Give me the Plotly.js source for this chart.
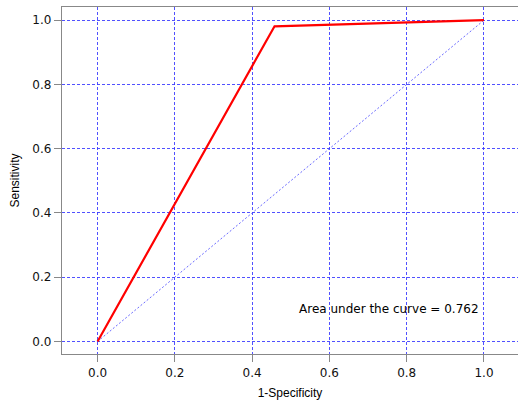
<!DOCTYPE html>
<html><head><meta charset="utf-8">
<script src="https://cdn.plot.ly/plotly-3.0.1.min.js"></script>
<style>html,body{margin:0;padding:0;background:#fff}</style>
</head><body><div id="chart" style="width:518px;height:402px"></div>
<script>
const fpr = [0, 0.458, 1];
const tpr = [0, 0.981, 1];
const refX = [0, 1];
const refY = [0, 1];
const tickVals = [0, 0.2, 0.4, 0.6, 0.8, 1.0];
const tickText = ["0.0", "0.2", "0.4", "0.6", "0.8", "1.0"];
const aucText = "Area under the curve = 0.762";

const titleFont = {family: "Liberation Sans, Arial, sans-serif", size: 12, color: "#000"};
const tickFont = {family: "DejaVu Sans, sans-serif", size: 12, color: "#111"};
const traces = [
  {x: refX, y: refY, mode: "lines", line: {color: "rgba(70,70,255,0.8)", width: 1, dash: "2px,2px"}, hoverinfo: "skip"},
  {x: fpr, y: tpr, mode: "lines", line: {color: "#ff0000", width: 2.2}}
];
const gridCommon = {
  showgrid: true, gridcolor: "rgba(50,50,255,0.85)", gridwidth: 1, griddash: "3px,2px",
  zeroline: false, tickmode: "array", tickvals: tickVals, ticktext: tickText,
  ticks: "outside", ticklen: 7, tickcolor: "#888", showline: true, linecolor: "#888", linewidth: 1.2,
  tickfont: tickFont
};
const layout = {
  width: 518, height: 402, showlegend: false,
  paper_bgcolor: "#fff", plot_bgcolor: "#fff",
  margin: {l: 62, r: 0, t: 7, b: 48},
  font: titleFont,
  xaxis: Object.assign({}, gridCommon, {range: [-0.092, 1.088], mirror: true,
    title: {text: "1-Specificity", font: titleFont, standoff: 10}}),
  yaxis: Object.assign({}, gridCommon, {range: [-0.039, 1.041], mirror: false,
    title: {text: "Sensitivity", font: titleFont, standoff: 10}}),
  annotations: [{x: 0.755, y: 0.102, xref: "x", yref: "y", text: aucText, showarrow: false,
    font: {family: "DejaVu Sans, sans-serif", size: 12, color: "#000"}}]
};
Plotly.newPlot("chart", traces, layout, {displayModeBar: false, staticPlot: true});
</script></body></html>
